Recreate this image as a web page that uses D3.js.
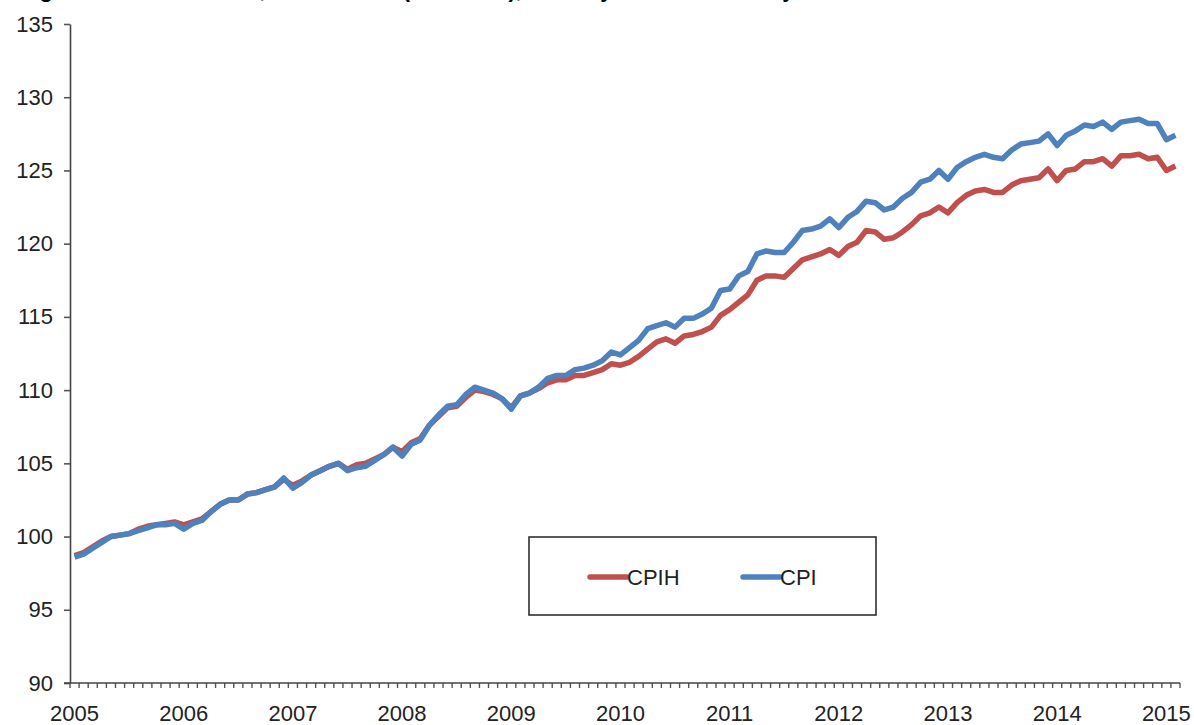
<!DOCTYPE html>
<html>
<head>
<meta charset="utf-8">
<script src="https://cdn.jsdelivr.net/npm/d3@7"></script>
<style>
  html, body { margin: 0; padding: 0; background: #fff; }
  svg { display: block; font-family: "Liberation Sans", Arial, sans-serif; }
</style>
</head>
<body>
<svg id="chart" width="1194" height="725"></svg>
<script>
// ---- Data ----
const titleText = "Figure 2: CPIH and CPI, index levels (2005=100), January 2005 to February 2015";
const yearLabels = ["2005","2006","2007","2008","2009","2010","2011","2012","2013","2014","2015"];
const yTicks = [90, 95, 100, 105, 110, 115, 120, 125, 130, 135];
const seriesNames = ["CPIH", "CPI"];
const seriesColors = ["#C0504D", "#4F81BD"];

const cpih = [
  98.7, 98.9, 99.3, 99.7, 100.0, 100.1, 100.2, 100.5, 100.7, 100.8, 100.9, 101.0,
  100.8, 101.0, 101.2, 101.7, 102.2, 102.5, 102.5, 102.9, 103.0, 103.2, 103.4, 103.9,
  103.5, 103.8, 104.2, 104.5, 104.8, 105.0, 104.6, 104.9, 105.0, 105.3, 105.6, 106.1,
  105.8, 106.4, 106.7, 107.6, 108.2, 108.8, 108.9, 109.5, 110.0, 109.9, 109.7, 109.4,
  108.8, 109.6, 109.8, 110.1, 110.5, 110.7, 110.7, 111.0, 111.0, 111.2, 111.4, 111.8,
  111.7, 111.9, 112.3, 112.8, 113.3, 113.5, 113.2, 113.7, 113.8, 114.0, 114.3, 115.1,
  115.5, 116.0, 116.5, 117.5, 117.8, 117.8, 117.7, 118.3, 118.9, 119.1, 119.3, 119.6,
  119.2, 119.8, 120.1, 120.9, 120.8, 120.3, 120.4, 120.8, 121.3, 121.9, 122.1, 122.5,
  122.1, 122.8, 123.3, 123.6, 123.7, 123.5, 123.5, 124.0, 124.3, 124.4, 124.5, 125.1,
  124.3, 125.0, 125.1, 125.6, 125.6, 125.8, 125.3, 126.0, 126.0, 126.1, 125.8, 125.9,
  125.0, 125.3
];
const cpi = [
  98.6, 98.8, 99.2, 99.6, 100.0, 100.1, 100.2, 100.4, 100.6, 100.8, 100.8, 100.9,
  100.5, 100.9, 101.1, 101.7, 102.2, 102.5, 102.5, 102.9, 103.0, 103.2, 103.4, 104.0,
  103.3, 103.7, 104.2, 104.5, 104.8, 105.0, 104.5, 104.7, 104.8, 105.2, 105.6, 106.1,
  105.5, 106.3, 106.6, 107.6, 108.3, 108.9, 109.0, 109.7, 110.2, 110.0, 109.8, 109.4,
  108.7, 109.6, 109.8, 110.2, 110.8, 111.0, 111.0, 111.4, 111.5, 111.7, 112.0, 112.6,
  112.4, 112.9, 113.4, 114.2, 114.4, 114.6, 114.3, 114.9, 114.9, 115.2, 115.6, 116.8,
  116.9, 117.8, 118.1, 119.3, 119.5, 119.4, 119.4, 120.1, 120.9, 121.0, 121.2, 121.7,
  121.1, 121.8, 122.2, 122.9, 122.8, 122.3, 122.5, 123.1, 123.5, 124.2, 124.4, 125.0,
  124.4, 125.2, 125.6, 125.9, 126.1, 125.9, 125.8, 126.4, 126.8, 126.9, 127.0, 127.5,
  126.7, 127.4, 127.7, 128.1, 128.0, 128.3, 127.8, 128.3, 128.4, 128.5, 128.2, 128.2,
  127.1, 127.4
];
// monthly categories Jan 2005 .. Feb 2015
const months = d3.timeMonth.range(new Date(2005, 0, 1), new Date(2015, 2, 1)).map(d3.timeFormat("%Y-%m"));

// ---- Layout ----
const svg = d3.select("#chart");
const plot = { left: 70, right: 1180, top: 24, bottom: 683 };

const x = d3.scaleBand().domain(months).range([plot.left, plot.right]).padding(0);
const xc = m => x(m) + x.bandwidth() / 2;
const y = d3.scaleLinear().domain([90, 135]).range([plot.bottom, plot.top]);

// Title (cut off at top of the image, only descenders visible as in the reference)
svg.append("text")
  .attr("x", 20).attr("y", -3)
  .attr("font-size", 22).attr("font-weight", "bold").attr("fill", "#000")
  .text(titleText);

// Y axis
const yAxis = svg.append("g")
  .attr("transform", `translate(${plot.left},0)`)
  .call(d3.axisLeft(y).tickValues(yTicks).tickSize(6).tickPadding(11).tickSizeOuter(0));
yAxis.select(".domain").attr("stroke", "#444").attr("stroke-width", 1.6);
yAxis.selectAll(".tick line").attr("stroke", "#555").attr("stroke-width", 1.6);
yAxis.selectAll(".tick text").attr("font-size", 22).attr("fill", "#222")
  .attr("font-family", "'Liberation Sans', Arial, sans-serif");

// X axis: line, monthly boundary ticks, yearly labels
const xg = svg.append("g");
const boundaries = months.map(m => x(m)).concat([plot.right]);
xg.selectAll("line.mt").data(boundaries).enter().append("line")
  .attr("class", "mt")
  .attr("x1", d => d).attr("x2", d => d)
  .attr("y1", plot.bottom).attr("y2", plot.bottom + 5)
  .attr("stroke", "#555").attr("stroke-width", 1.4);
xg.append("line")
  .attr("x1", plot.left - 6).attr("x2", plot.right)
  .attr("y1", plot.bottom).attr("y2", plot.bottom)
  .attr("stroke", "#444").attr("stroke-width", 1.6);
xg.selectAll("text.yl").data(yearLabels).enter().append("text")
  .attr("class", "yl")
  .attr("x", (d, i) => xc(months[i * 12]))
  .attr("y", 721)
  .attr("text-anchor", "middle")
  .attr("font-size", 22).attr("fill", "#222")
  .text(d => d);

// Lines
const line = d3.line().x((d, i) => xc(months[i])).y(d => y(d)).curve(d3.curveLinear);
[cpih, cpi].forEach((s, k) => {
  svg.append("path")
    .datum(s)
    .attr("d", line)
    .attr("fill", "none")
    .attr("stroke", seriesColors[k])
    .attr("stroke-width", 5.5)
    .attr("stroke-linejoin", "round")
    .attr("stroke-linecap", "butt");
});

// Legend
const lg = svg.append("g");
lg.append("rect")
  .attr("x", 529).attr("y", 537).attr("width", 347).attr("height", 78)
  .attr("fill", "#fff").attr("stroke", "#222").attr("stroke-width", 1.5);
const legendX = [590, 743];
seriesNames.forEach((n, k) => {
  lg.append("line")
    .attr("x1", legendX[k]).attr("x2", legendX[k] + 37)
    .attr("y1", 577).attr("y2", 577)
    .attr("stroke", seriesColors[k]).attr("stroke-width", 5.5).attr("stroke-linecap", "round");
  lg.append("text")
    .attr("x", legendX[k] + 37).attr("y", 585)
    .attr("font-size", 22).attr("fill", "#222")
    .text(n);
});
</script>
</body>
</html>
